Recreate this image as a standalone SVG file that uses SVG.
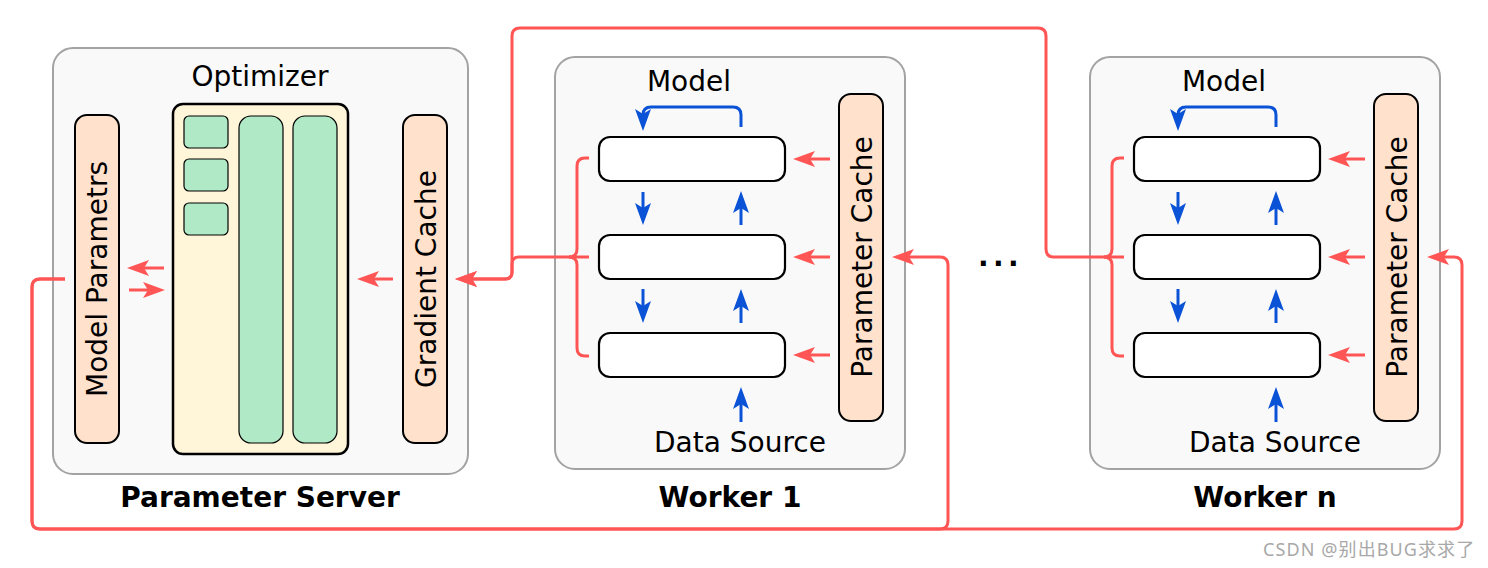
<svg xmlns="http://www.w3.org/2000/svg" width="1488" height="568" viewBox="0 0 1488 568">
<style>
  .frame { fill: #f9f9f9; stroke: #a3a3a3; stroke-width: 2; }
  .peach { fill: #ffe1cc; stroke: #000; stroke-width: 2; }
  .opt { fill: #fff5d8; stroke: #000; stroke-width: 2.5; }
  .green { fill: #b0e9c6; stroke: #000; stroke-width: 1.2; }
  .layer { fill: #fff; stroke: #000; stroke-width: 2.2; }
  .t { font-family: "DejaVu Sans", "Liberation Sans", sans-serif; font-size: 28px; fill: #000; }
  .tb { font-family: "DejaVu Sans", "Liberation Sans", sans-serif; font-size: 28px; font-weight: bold; fill: #000; text-anchor: middle; }
  .mid { text-anchor: middle; }
  .red { fill: none; stroke: #ff5555; stroke-width: 3; }
  .redA { fill: none; stroke: #ff5555; stroke-width: 3; marker-end: url(#ar); }
  .blueA { fill: none; stroke: #0a52d6; stroke-width: 3; marker-end: url(#ab); }
  .wm { font-family: "Noto Sans", "Noto Sans CJK SC", sans-serif; font-size: 18px; letter-spacing: 1.1px; fill: #a8a8a8; }
</style>
<defs>
  <marker id="ar" markerUnits="userSpaceOnUse" markerWidth="26" markerHeight="20" viewBox="0 -10 26 20" refX="12" refY="0" orient="auto">
    <path d="M0,-8 L22,0 L0,8 L5,0 Z" fill="#ff5555"/>
  </marker>
  <marker id="ab" markerUnits="userSpaceOnUse" markerWidth="26" markerHeight="20" viewBox="0 -10 26 20" refX="12" refY="0" orient="auto">
    <path d="M0,-8 L22,0 L0,8 L5,0 Z" fill="#0a52d6"/>
  </marker>
</defs>
<rect width="1488" height="568" fill="#fff"/>

<g id="parameter-server">
  <rect class="frame" x="53" y="48" width="415" height="426" rx="20"/>
  <text class="t mid" x="260" y="86">Optimizer</text>
  <text class="tb" x="260" y="507">Parameter Server</text>
</g>
<g id="model-parameters">
  <rect class="peach" x="75" y="115" width="44" height="328" rx="12"/>
  <text class="t mid" transform="translate(107,279) rotate(-90)">Model Parametrs</text>
</g>
<g id="optimizer">
  <rect class="opt" x="173" y="104" width="175" height="350" rx="10"/>
  <rect class="green" x="184" y="116" width="44" height="32" rx="5"/>
  <rect class="green" x="184" y="159" width="44" height="32" rx="5"/>
  <rect class="green" x="184" y="203" width="44" height="32" rx="5"/>
  <rect class="green" x="239" y="116" width="44" height="327" rx="12"/>
  <rect class="green" x="293" y="116" width="44" height="327" rx="12"/>
</g>
<g id="gradient-cache">
  <rect class="peach" x="403" y="115" width="44" height="328" rx="12"/>
  <text class="t mid" transform="translate(436,279) rotate(-90)">Gradient Cache</text>
</g>

<g id="worker-1">
  <rect class="frame" x="555" y="57" width="350" height="412" rx="20"/>
  <text class="t mid" x="689" y="91">Model</text>
  <rect class="layer" x="599" y="137" width="186" height="44" rx="11"/>
  <rect class="layer" x="599" y="235" width="186" height="44" rx="11"/>
  <rect class="layer" x="599" y="333" width="186" height="44" rx="11"/>
  <rect class="peach" x="839" y="94" width="44" height="327" rx="12"/>
  <text class="t mid" transform="translate(872,257) rotate(-90)">Parameter Cache</text>
  <text class="t mid" x="740" y="452">Data Source</text>
  <text class="tb" x="730" y="507">Worker 1</text>
</g>

<g id="worker-n">
  <rect class="frame" x="1090" y="57" width="350" height="412" rx="20"/>
  <text class="t mid" x="1224" y="91">Model</text>
  <rect class="layer" x="1134" y="137" width="186" height="44" rx="11"/>
  <rect class="layer" x="1134" y="235" width="186" height="44" rx="11"/>
  <rect class="layer" x="1134" y="333" width="186" height="44" rx="11"/>
  <rect class="peach" x="1374" y="94" width="44" height="327" rx="12"/>
  <text class="t mid" transform="translate(1407,257) rotate(-90)">Parameter Cache</text>
  <text class="t mid" x="1275" y="452">Data Source</text>
  <text class="tb" x="1265" y="507">Worker n</text>
</g>

<text id="ellipsis" class="t" x="978" y="266" font-weight="bold" letter-spacing="4.4">...</text>

<g id="connectors">
  <path class="redA" d="M164,268 H137"/>
  <path class="redA" d="M129,290 H155"/>
  <path class="redA" d="M393,279 H367"/>
  <path class="redA" d="M830,159 H803"/>
  <path class="redA" d="M830,257 H803"/>
  <path class="redA" d="M830,355 H803"/>
  <path class="blueA" d="M643,192 V215"/>
  <path class="blueA" d="M643,289 V313"/>
  <path class="blueA" d="M741,225 V201"/>
  <path class="blueA" d="M741,323 V299"/>
  <path class="blueA" d="M741,422 V397"/>
  <path class="blueA" d="M741,127 V115 Q741,107 733,107 H651 Q643,107 643,115 V121"/>
  <path class="red" d="M589,158 H585 Q577,158 577,166 V249 Q577,257 569,257"/>
  <path class="red" d="M589,356 H585 Q577,356 577,348 V265 Q577,257 569,257"/>
  <path class="redA" d="M1365,159 H1338"/>
  <path class="redA" d="M1365,257 H1338"/>
  <path class="redA" d="M1365,355 H1338"/>
  <path class="blueA" d="M1178,192 V215"/>
  <path class="blueA" d="M1178,289 V313"/>
  <path class="blueA" d="M1276,225 V201"/>
  <path class="blueA" d="M1276,323 V299"/>
  <path class="blueA" d="M1276,422 V397"/>
  <path class="blueA" d="M1276,127 V115 Q1276,107 1268,107 H1186 Q1178,107 1178,115 V121"/>
  <path class="red" d="M1124,158 H1120 Q1112,158 1112,166 V249 Q1112,257 1104,257"/>
  <path class="red" d="M1124,356 H1120 Q1112,356 1112,348 V265 Q1112,257 1104,257"/>
  <path class="redA" d="M589,257 H519 Q512,257 512,264 V272 Q512,279 505,279 H465"/>
  <path class="redA" d="M1124,257 H1054 Q1046,257 1046,249 V36 Q1046,28 1038,28 H520 Q512,28 512,36 V272 Q512,279 505,279 H465"/>
  <path class="redA" d="M65,279 H40 Q32,279 32,287 V521 Q32,529 40,529 H940 Q948,529 948,521 V265 Q948,257 940,257 H902"/>
  <path class="redA" d="M65,279 H40 Q32,279 32,287 V521 Q32,529 40,529 H1454 Q1462,529 1462,521 V265 Q1462,257 1454,257 H1437"/>
</g>

<text class="wm" x="1263" y="556">CSDN @别出BUG求求了</text>
</svg>
